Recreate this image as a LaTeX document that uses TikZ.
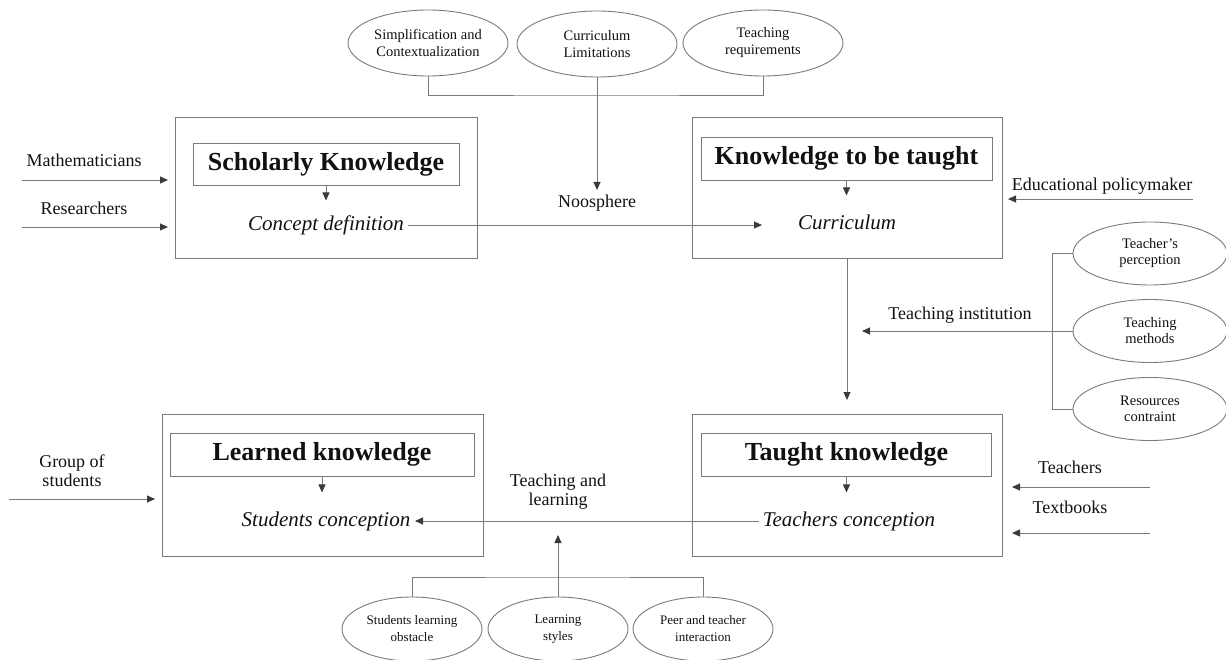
\documentclass[tikz,border=0pt]{standalone}
\usepackage{fontspec}
\setmainfont{Liberation Serif}
\usetikzlibrary{shapes.geometric,arrows.meta}

\definecolor{lncol}{HTML}{7A7A7A}
\definecolor{tipcol}{HTML}{3A3A3A}
\definecolor{txtcol}{HTML}{111111}

\tikzset{
  ln/.style={draw=lncol, line width=0.9pt},
  arr/.style={ln, -{Triangle[length=8pt,width=7pt,color=tipcol]}},
  outerbox/.style={draw=lncol, line width=0.9pt, rectangle, inner sep=0pt},
  titlebox/.style={draw=lncol, line width=0.9pt, rectangle, inner sep=0pt,
    text=txtcol, font=\fontsize{26}{30}\selectfont\bfseries},
  concept/.style={text=txtcol, inner sep=4pt, font=\fontsize{21}{25}\selectfont\itshape},
  label/.style={text=txtcol, align=center, inner sep=1pt, font=\fontsize{18}{19}\selectfont},
  oval/.style={ellipse, draw=lncol, line width=0.9pt, inner sep=0pt, align=center, text=txtcol},
  topoval/.style={oval, minimum width=160pt, minimum height=66pt, font=\fontsize{14.5}{17}\selectfont},
  rightoval/.style={oval, minimum width=154pt, minimum height=63pt, font=\fontsize{14.5}{16}\selectfont},
  botoval/.style={oval, minimum width=140pt, minimum height=64pt, font=\fontsize{13}{17}\selectfont},
}

\begin{document}
\begin{tikzpicture}[x=1pt,y=-1pt]
\useasboundingbox (0,0) rectangle (1226,660);

% the four knowledge stages
\node[outerbox, minimum width=302pt, minimum height=141pt] (sk) at (326,187.5) {};
\node[outerbox, minimum width=310pt, minimum height=141pt] (kt) at (847,187.5) {};
\node[outerbox, minimum width=310pt, minimum height=142pt] (tk) at (847,485) {};
\node[outerbox, minimum width=321pt, minimum height=142pt] (lk) at (322.5,485) {};

\node[titlebox, minimum width=266pt, minimum height=42pt] (skt) at (326,164) {Scholarly Knowledge};
\node[titlebox, minimum width=291pt, minimum height=43pt] (ktt) at (846.5,158.5) {Knowledge to be taught};
\node[titlebox, minimum width=290pt, minimum height=43pt] (tkt) at (846.5,454.5) {Taught knowledge};
\node[titlebox, minimum width=304pt, minimum height=43pt] (lkt) at (322,454.5) {Learned knowledge};

\node[concept] (cd) at (326,225) {Concept definition};
\node[concept] (cu) at (847,222) {Curriculum};
\node[concept] (tc) at (849,521) {Teachers conception};
\node[concept] (sc) at (326,521) {Students conception};

\draw[arr] (skt.south) -- ++(0,15);
\draw[arr] (ktt.south) -- ++(0,15);
\draw[arr] (tkt.south) -- ++(0,16);
\draw[arr] (lkt.south) -- ++(0,16);

% noosphere: concept definition to curriculum
\coordinate (cin) at (762,225);
\draw[arr] (cd.east) -- (cin);
\node[label] (noo) at (597,203) {Noosphere};

% top influences
\node[topoval] (e1) at (428,43) {Simplification and\\Contextualization};
\node[topoval] (e2) at (597,44) {Curriculum\\Limitations};
\node[topoval] (e3) at (763,43) {Teaching\\requirements};
\coordinate (tj) at (597,95);
\coordinate (tdown) at (597,190);
\draw[ln] (e1.south) |- (tj) -| (e3.south);
\draw[arr] (e2.south) -- (tdown);

% teaching institution
\coordinate (ktdown) at (847,400);
\draw[arr] (kt.south) -- (ktdown);
\node[rightoval] (rp) at (1150,253.5) {Teacher’s\\perception};
\node[rightoval] (rm) at (1150,331) {Teaching\\methods};
\node[rightoval] (rr) at (1150,409) {Resources\\contraint};
\coordinate (rj) at (1052,331);
\coordinate (tiend) at (862,331);
\draw[ln] (rp.west) -| (rj) |- (rr.west);
\draw[arr] (rm.west) -- (tiend);
\node[label] (ti) at (960,315) {Teaching institution};

% teaching and learning
\coordinate (tlend) at (415,521);
\draw[arr] (tc.west) -- (tlend);
\node[label] (tl) at (558,492) {Teaching and\\learning};
\node[botoval] (b1) at (412,629) {Students learning\\obstacle};
\node[botoval] (b2) at (558,629) {Learning\\styles};
\node[botoval] (b3) at (703,629) {Peer and teacher\\interaction};
\coordinate (bj) at (558,577);
\coordinate (bup) at (558,535);
\draw[ln] (b1.north) |- (bj) -| (b3.north);
\draw[arr] (b2.north) -- (bup);

% actors on the left
\node[label] (math) at (84,160) {Mathematicians};
\coordinate (m0) at (22,180);
\coordinate (m1) at (168,180);
\draw[arr] (m0) -- (m1);
\node[label] (res) at (84,208) {Researchers};
\coordinate (r0) at (22,227);
\coordinate (r1) at (168,227);
\draw[arr] (r0) -- (r1);
\node[label] (gs) at (72,471) {Group of\\students};
\coordinate (g0) at (9,499);
\coordinate (g1) at (155,499);
\draw[arr] (g0) -- (g1);

% actors on the right
\node[label] (pm) at (1102,186) {Educational policymaker};
\coordinate (p0) at (1193,199);
\coordinate (p1) at (1008,199);
\draw[arr] (p0) -- (p1);
\node[label] (tch) at (1070,467) {Teachers};
\coordinate (t0) at (1150,487);
\coordinate (t1) at (1012,487);
\draw[arr] (t0) -- (t1);
\node[label] (tb) at (1070,507) {Textbooks};
\coordinate (x0) at (1150,533);
\coordinate (x1) at (1012,533);
\draw[arr] (x0) -- (x1);
\end{tikzpicture}
\end{document}
